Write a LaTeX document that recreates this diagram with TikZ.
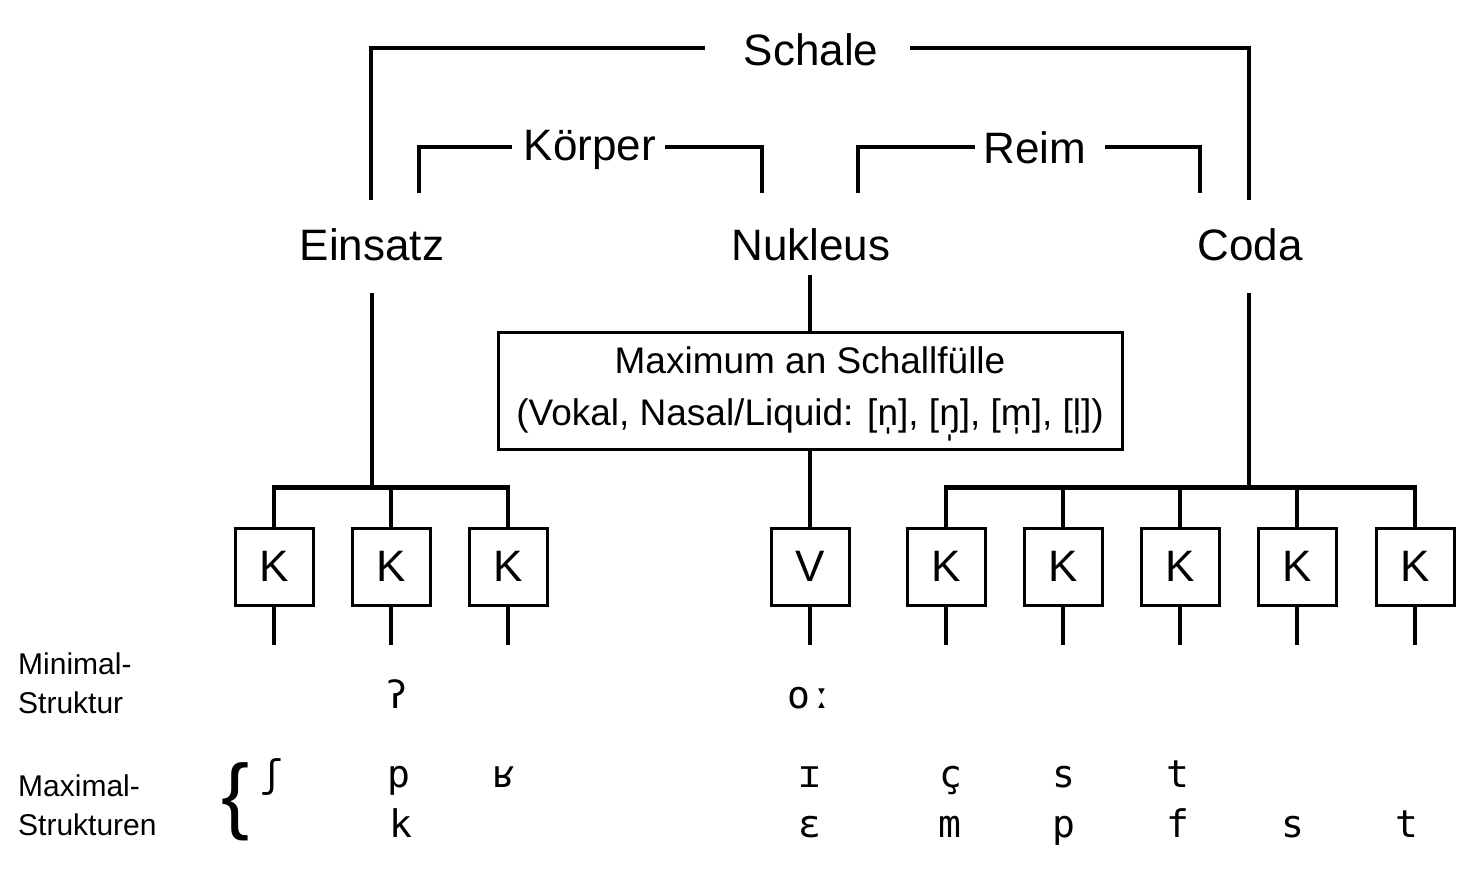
\documentclass[tikz,border=0pt]{standalone}
\usepackage{fontspec}
\setmainfont{Liberation Sans}
\newfontfamily\ipa{DejaVu Sans Mono}
\begin{document}
\begin{tikzpicture}[x=1pt,y=-1pt,
  ln/.style={line width=4pt},
  bar/.style={line width=5pt},
  big/.style={font=\fontsize{44}{50}\selectfont, inner sep=0pt, anchor=base},
  kbox/.style={draw, line width=3pt, minimum width=78pt, minimum height=77pt, inner sep=0pt, font=\fontsize{44}{50}\selectfont},
  lab/.style={font=\fontsize{30}{34}\selectfont, anchor=base west, inner sep=0pt},
  ip/.style={font=\ipa\fontsize{38}{42}\selectfont, inner sep=0pt, anchor=base}]
\useasboundingbox (0,0) rectangle (1464,879);
\node[big] (schale) at (811,65) {Schale};
\node[big] (koerper) at (590,160) {Körper};
\node[big] (reim) at (1035,163) {Reim};
\node[big] (eins) at (372,260) {Einsatz};
\node[big] (nuk) at (811,260) {Nukleus};
\node[big] (coda) at (1250,260) {Coda};
\draw[ln] (371,200) -- (371,48) -- (705,48);
\draw[ln] (910,48) -- (1249,48) -- (1249,200);
\draw[ln] (419,193) -- (419,147) -- (512,147);
\draw[ln] (665,147) -- (762,147) -- (762,193);
\draw[ln] (858,193) -- (858,147) -- (975,147);
\draw[ln] (1105,147) -- (1200,147) -- (1200,193);
\node[draw, line width=3pt, minimum width=624pt, minimum height=117pt] (max) at (810,390.5) {};
\node[font=\fontsize{37}{42}\selectfont, inner sep=0pt, anchor=base] (m1) at (810,373) {Maximum an Schallfülle};
\node[font=\fontsize{37}{42}\selectfont, inner sep=0pt, anchor=base] (m2) at (810,425) {(Vokal, Nasal/Liquid: [n̩], [ŋ̩], [m̩], [l̩])};
\draw[ln] (372,293) -- (372,487);
\draw[ln] (810,275) -- (max.north);
\draw[ln] (1249,293) -- (1249,487);
\draw[bar] (272,487) -- (510,487);
\draw[bar] (944,487) -- (1417,487);
\foreach \x/\n/\t in {274/k1/K,391/k2/K,508/k3/K,810/v/V,946/k4/K,1063/k5/K,1180/k6/K,1297/k7/K,1415/k8/K}{
  \node[kbox] (\n) at (\x,566.5) {\t};
  \draw[ln] (\n.south) -- ++(0,38);
}
\foreach \n in {k1,k2,k3,k4,k5,k6,k7,k8}{ \draw[ln] (\n.north) -- ++(0,-41); }
\draw[ln] (max.south) -- (v.north);
\node[lab] (mi1) at (18,674) {Minimal-};
\node[lab] (mi2) at (18,713) {Struktur};
\node[lab] (ma1) at (18,796) {Maximal-};
\node[lab] (ma2) at (18,835) {Strukturen};
\node[font=\fontsize{84}{84}\selectfont, inner sep=0pt] (br) at (236,802) {\{};
\node[ip] at (397,708) {ʔ};
\node[ip] at (810,708) {oː};
\foreach \x/\t in {272/ʃ,399/p,505/ʁ,810/ɪ,951/ç,1064/s,1178/t}{\node[ip] at (\x,787) {\t};}
\foreach \x/\t in {401/k,810/ɛ,950/m,1064/p,1178/f,1293/s,1407/t}{\node[ip] at (\x,837) {\t};}
\end{tikzpicture}
\end{document}
